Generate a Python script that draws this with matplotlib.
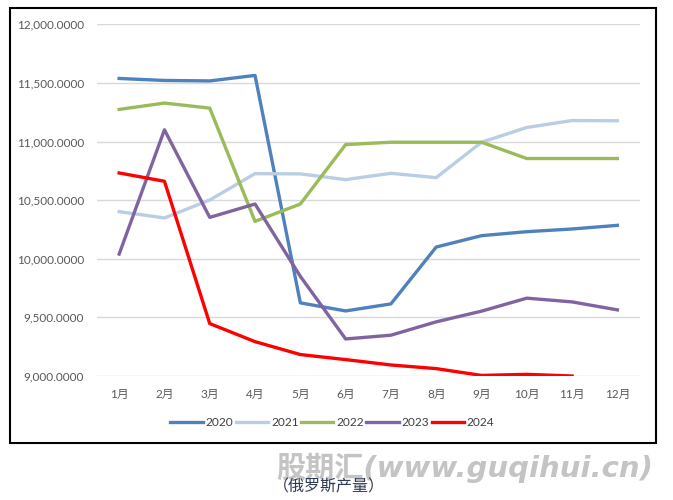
import matplotlib.pyplot as plt
from matplotlib.patches import Rectangle

plt.rcParams['font.family'] = ['Lato', 'Noto Sans CJK SC']

# 俄罗斯月度产量
months = ['1月', '2月', '3月', '4月', '5月', '6月', '7月', '8月', '9月', '10月', '11月', '12月']
y2020 = [11538, 11521, 11517, 11564, 9624, 9555, 9615, 10100, 10197, 10231, 10254, 10285]
y2021 = [10402, 10348, 10501, 10726, 10724, 10675, 10729, 10692, 10994, 11120, 11179, 11177]
y2022 = [11274, 11328, 11285, 10319, 10467, 10974, 10994, 10994, 10994, 10855, 10855, 10855]
y2023 = [10040, 11100, 10353, 10467, 9850, 9316, 9348, 9462, 9553, 9664, 9632, 9564]
y2024 = [10732, 10661, 9447, 9293, 9183, 9140, 9094, 9063, 9005, 9014, 9000]

series = [('2020', y2020, '#4F81BD'),
          ('2021', y2021, '#B9CDE5'),
          ('2022', y2022, '#9BBB59'),
          ('2023', y2023, '#8064A2'),
          ('2024', y2024, '#FF0000')]

fig = plt.figure(figsize=(6.73, 5.0), dpi=100)
ax = fig.add_axes([0.1434, 0.248, 0.8076, 0.7034])

x = list(range(len(months)))
for name, vals, col in series:
    ax.plot(x[:len(vals)], vals, color=col, lw=2.4, label=name, solid_joinstyle='round')

ax.set_xlim(-0.5, 11.5)
ax.set_ylim(9000, 12000)
ax.set_yticks([9000, 9500, 10000, 10500, 11000, 11500, 12000])
ax.set_yticklabels([f'{v:,.4f}' for v in ax.get_yticks()])
ax.set_xticks(x)
ax.set_xticklabels(months)
ax.tick_params(length=0, labelsize=8.5, colors='#595959', pad=9)
ax.grid(axis='y', color='#D9D9D9', lw=1)
ax.set_axisbelow(True)
for s in ax.spines.values():
    s.set_visible(False)

fig.legend(loc='center', bbox_to_anchor=(0.494, 0.154), ncol=5, frameon=False,
           fontsize=8.6, handlelength=2.7, columnspacing=0.2, handletextpad=0.25,
           labelcolor='#404040')

# outer frame
fig.patches.append(Rectangle((10 / 673, 1 - 443 / 500), 646 / 673, 435 / 500,
                             transform=fig.transFigure, fill=False,
                             edgecolor='black', lw=1.5))

fig.text(0.971, 0.064, '股期汇(www.guqihui.cn)', ha='right', va='center',
         fontsize=21, fontweight='heavy', style='italic', color='#C4C4C4',
         family=['DejaVu Sans', 'Noto Sans CJK SC'])
fig.text(0.488, 0.026, '（俄罗斯产量）', ha='center', va='center', fontsize=11.5,
         color='#2F3B55', family=['Noto Sans CJK SC'])

fig.savefig('out.png', dpi=100)
